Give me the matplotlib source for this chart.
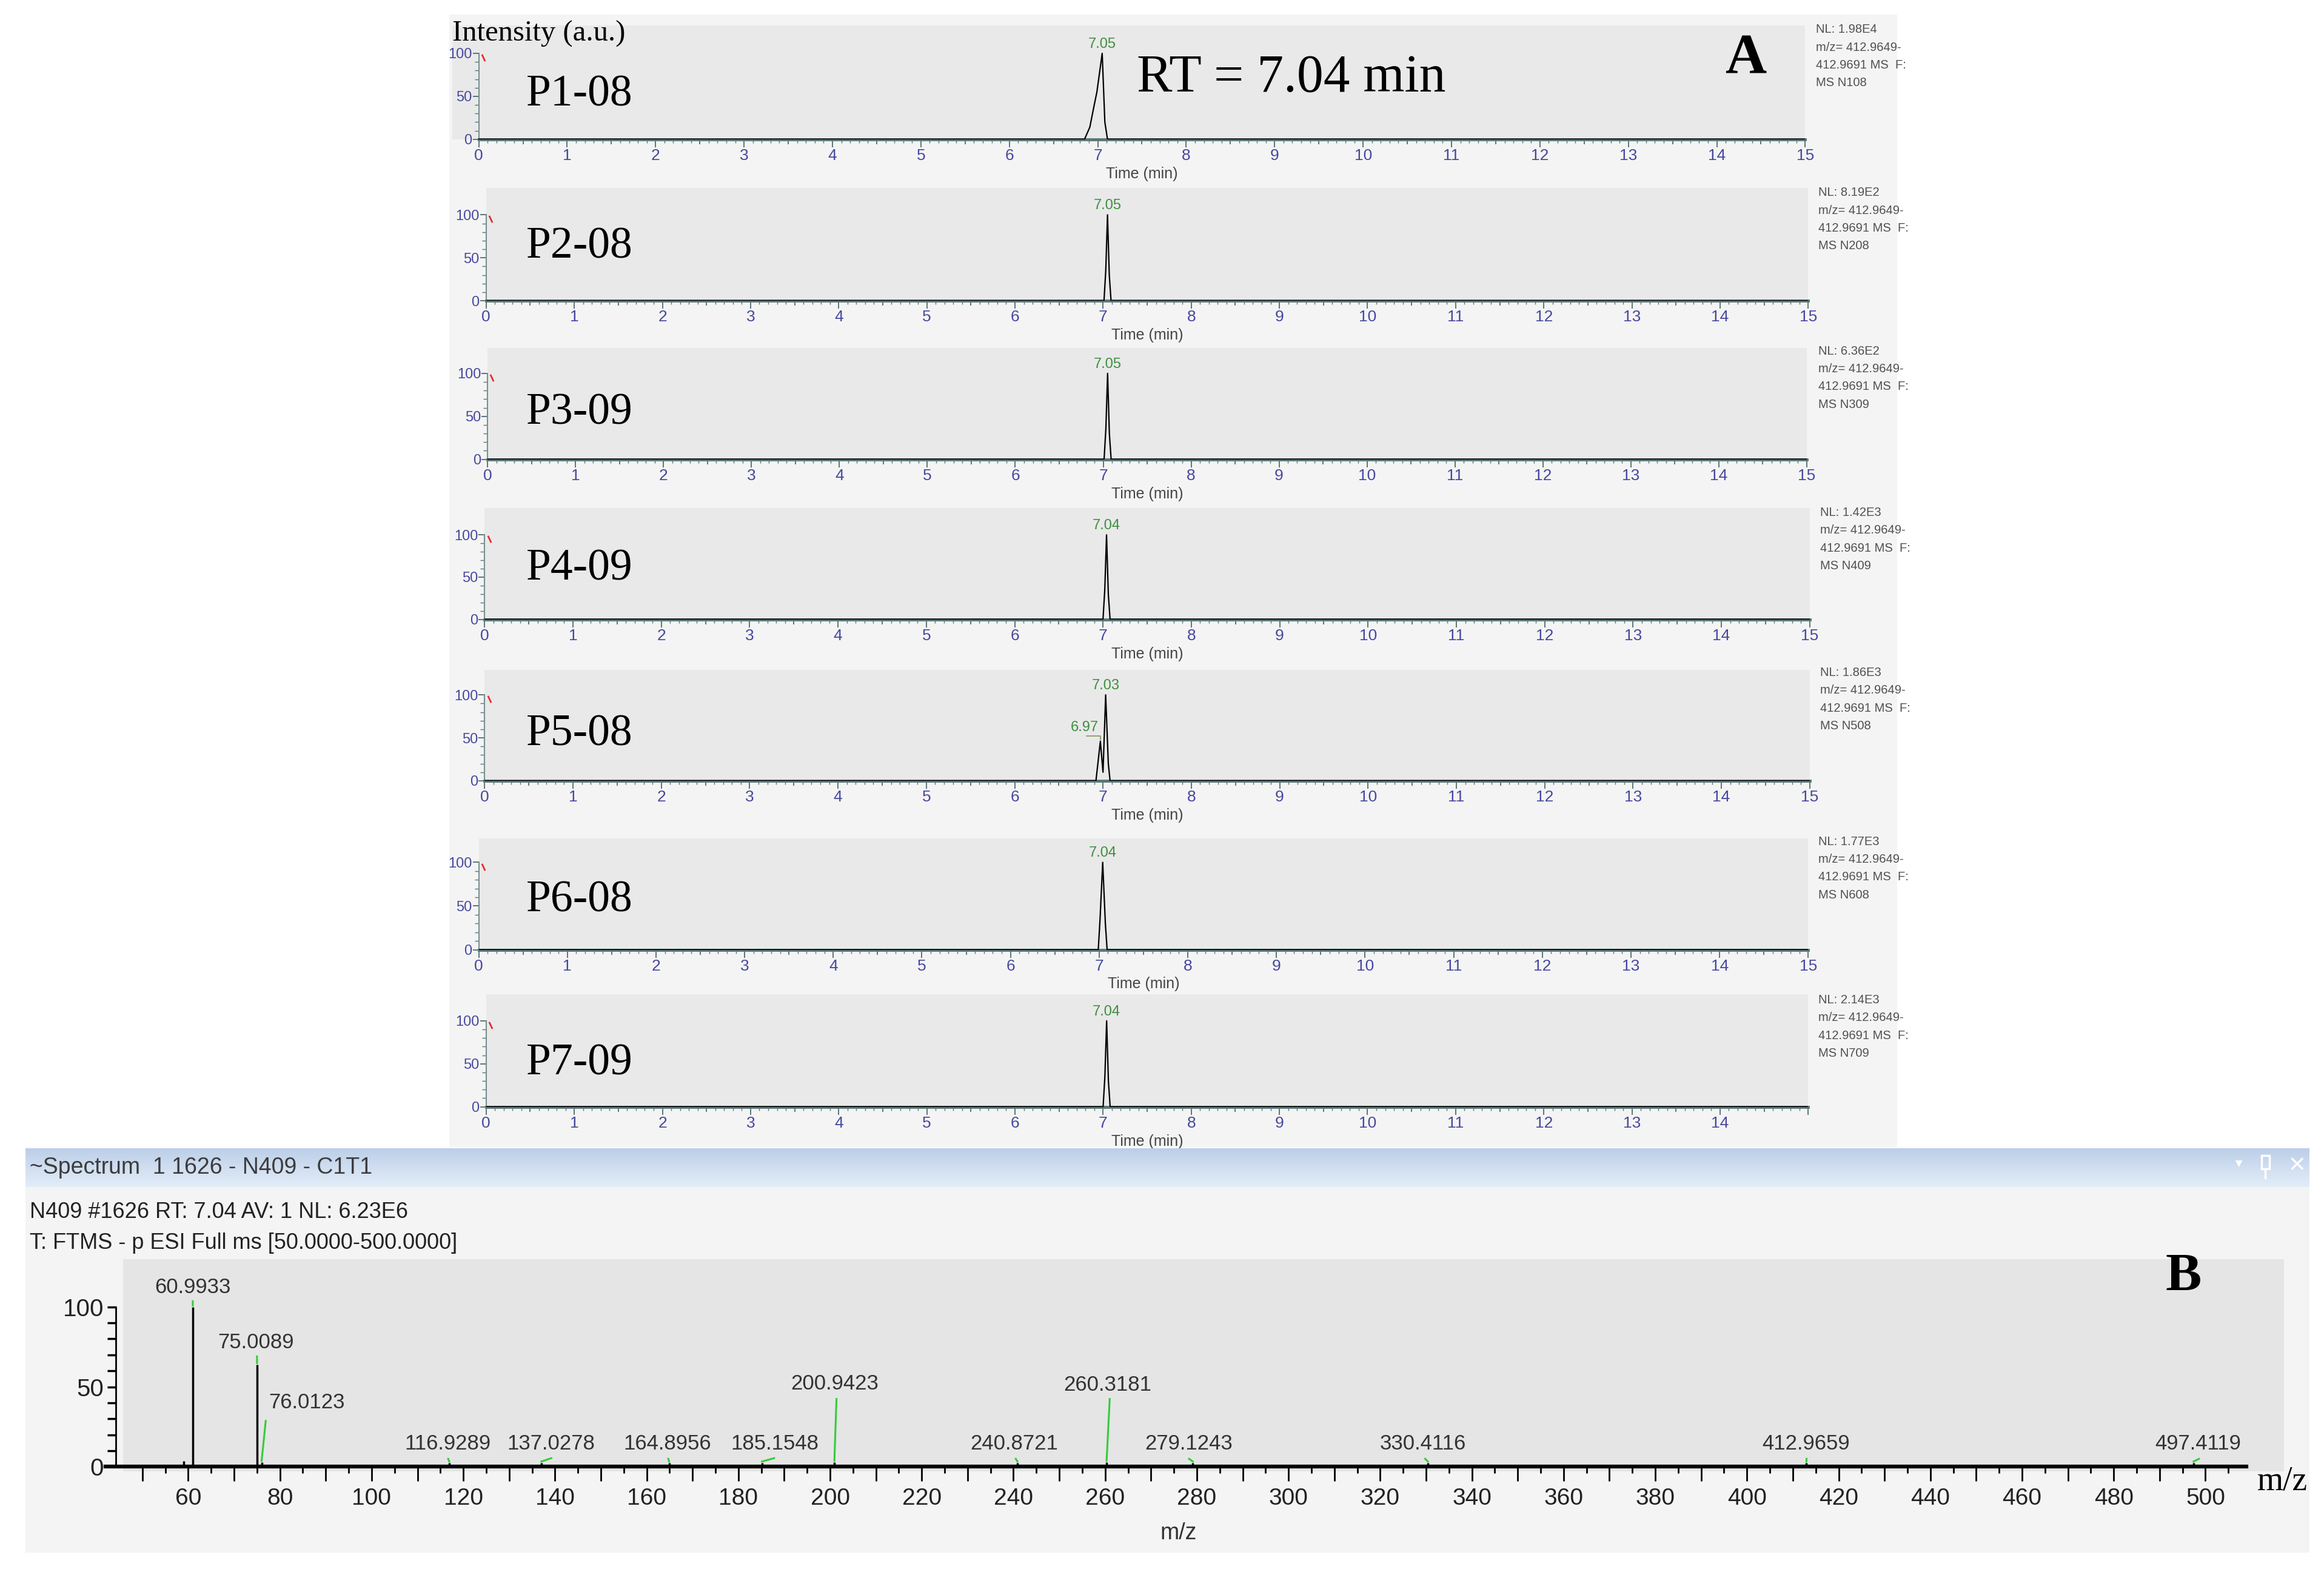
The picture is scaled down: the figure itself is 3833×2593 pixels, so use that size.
import matplotlib
matplotlib.use("Agg")
import matplotlib.pyplot as plt
import numpy as np
from matplotlib.patches import Rectangle
from matplotlib.lines import Line2D
from matplotlib.colors import LinearSegmentedColormap
from matplotlib.ticker import FixedLocator, FuncFormatter

# ---------------- data: extracted-ion chromatograms (m/z 412.9649-412.9691) ----------------
samples = ["P1-08", "P2-08", "P3-09", "P4-09", "P5-08", "P6-08", "P7-09"]
nl_values = ["1.98E4", "8.19E2", "6.36E2", "1.42E3", "1.86E3", "1.77E3", "2.14E3"]
scan_ids = ["N108", "N208", "N309", "N409", "N508", "N608", "N709"]

trace_time = [
    [0, 6.85, 6.91, 6.96, 6.99, 7.05, 7.08, 7.11, 15],
    [0, 7.01, 7.03, 7.05, 7.07, 7.09, 15],
    [0, 7.01, 7.03, 7.05, 7.07, 7.09, 15],
    [0, 7.00, 7.02, 7.04, 7.06, 7.08, 15],
    [0, 6.92, 6.97, 7.00, 7.03, 7.06, 7.08, 15],
    [0, 6.99, 7.01, 7.04, 7.07, 7.09, 15],
    [0, 7.00, 7.02, 7.04, 7.06, 7.08, 15],
]
trace_int = [
    [0, 0, 14, 40, 55, 100, 20, 0, 0],
    [0, 0, 35, 100, 30, 0, 0],
    [0, 0, 35, 100, 30, 0, 0],
    [0, 0, 35, 100, 30, 0, 0],
    [0, 0, 46, 10, 100, 20, 0, 0],
    [0, 0, 35, 100, 30, 0, 0],
    [0, 0, 35, 100, 30, 0, 0],
]
peak_rt = [[7.05], [7.05], [7.05], [7.04], [7.03], [7.04], [7.04]]
p5_minor_rt = 6.97
p5_minor_int = 46

# ---------------- data: mass spectrum N409 #1626 ----------------
peak_mz = [59.0, 60.9933, 75.0089, 76.0123, 116.9289, 137.0278, 164.8956, 185.1548,
           200.9423, 240.8721, 260.3181, 279.1243, 330.4116, 412.9659, 497.4119]
peak_int = [3.5, 100, 64, 3, 2.5, 2.5, 2.5, 2.5, 3, 2.5, 3, 2.5, 2.5, 2.5, 2.5]
labeled = [1, 2, 3, 4, 5, 6, 7, 8, 9, 10, 11, 12, 13, 14]
# label anchor (centre m/z, bottom intensity) and leader-line end
label_x = [61.0, 74.8, 85.9, 116.6, 139.2, 164.5, 188.0, 201.0, 240.2, 260.5, 278.2, 329.3, 412.8, 498.4]
label_y = [106, 71.5, 34, 8, 8, 8, 8, 45.5, 8, 45, 8, 8, 8, 8]
leader_x = [60.99, 75.0, 76.9, 116.7, 139.2, 164.7, 187.8, 201.4, 240.5, 261.0, 278.3, 329.8, 413.0, 498.6]
leader_y = [103.5, 69, 28.7, 5, 5.4, 5, 5.4, 42.4, 5, 42.4, 5, 5, 5, 5]

# ---------------- layout (reference pixels, 1568 x 1061 grid) ----------------
W, H = 1568, 1061


def fx(x):
    return x / W


def fy(y):
    return 1 - y / H


# x(0 min), x(15 min), y(100%), y(0%), gray top, gray left
panel_px = [
    (323, 1218, 36, 94, 17, 305),
    (328, 1220, 145, 203, 127, 328),
    (329, 1219, 252, 310, 235, 329),
    (327, 1221, 361, 418, 343, 327),
    (327, 1221, 469, 527, 452, 327),
    (323, 1220, 582, 641, 566, 323),
    (328, 1220, 689, 747, 671, 328),
]
nl_px = [(1225, 20), (1227, 130), (1227, 237), (1228, 346), (1228, 454), (1227, 568), (1227, 675)]
sample_y = [64, 167, 279, 384, 496, 608, 718]

SANS = ["Liberation Sans", "DejaVu Sans"]
NARROW = ["Liberation Sans Narrow", "Liberation Sans", "DejaVu Sans"]
SERIF = ["Liberation Serif", "DejaVu Serif"]
plt.rcParams["font.family"] = SANS

BLUE = "#4848a0"
TEAL = "#5a7676"
GREEN_TXT = "#3f8f3f"
GREEN = "#35cc3a"

fig = plt.figure(figsize=(38.33, 25.93), dpi=100, facecolor="white")


def rect(x0, y0, x1, y1, color, z=-5):
    fig.add_artist(Rectangle((fx(x0), fy(y1)), (x1 - x0) / W, (y1 - y0) / H,
                             transform=fig.transFigure, facecolor=color,
                             edgecolor="none", zorder=z))


# backgrounds
rect(303, 10, 1280, 774, "#f4f4f4")
rect(17, 800, 1558, 1048, "#f4f4f4")
rect(83, 850, 1541, 993, "#e5e5e5", z=-4)

# ---------------- chromatogram panels ----------------
for i in range(7):
    x0, x15, y100, y0, ytop, gl = panel_px[i]
    ppm = (x15 - x0) / 15
    ppu = (y0 - y100) / 100
    ax = fig.add_axes([fx(gl), fy(y0), (x15 - gl) / W, (y0 - ytop) / H])
    ax.set_facecolor("#e9e9e9")
    ax.set_xlim(-(x0 - gl) / ppm, 15)
    ax.set_ylim(0, (y0 - ytop) / ppu)

    ax.plot(trace_time[i], trace_int[i], color="black", lw=1.6, zorder=3)

    for spn in ("top", "right"):
        ax.spines[spn].set_visible(False)
    ax.spines["left"].set_position(("data", 0))
    ax.spines["left"].set_bounds(0, 100)
    ax.spines["left"].set_color("#7a9090")
    ax.spines["left"].set_linewidth(1.5)
    ax.spines["bottom"].set_bounds(0, 15)
    ax.spines["bottom"].set_color(TEAL)
    ax.spines["bottom"].set_linewidth(3.5)

    last = 14 if i == 6 else 15
    ax.xaxis.set_major_locator(FixedLocator(np.arange(0, 15.01, 0.5)))
    ax.xaxis.set_minor_locator(FixedLocator(np.arange(0, 15.01, 0.1)))
    ax.xaxis.set_major_formatter(FuncFormatter(
        lambda v, p, last=last: f"{v:.0f}" if abs(v - round(v)) < 1e-6 and v <= last + 0.01 else ""))
    ax.yaxis.set_major_locator(FixedLocator([0, 50, 100]))
    ax.yaxis.set_minor_locator(FixedLocator(np.arange(0, 101, 10)))
    ax.tick_params(axis="x", which="major", direction="out", length=9, width=1.4,
                   color=TEAL, labelcolor=BLUE, labelsize=19, pad=2)
    ax.tick_params(axis="x", which="minor", direction="out", length=4, width=1.0, color=TEAL)
    ax.tick_params(axis="y", which="major", direction="out", length=7, width=1.4,
                   color=TEAL, labelcolor=BLUE, labelsize=17, pad=1)
    ax.tick_params(axis="y", which="minor", direction="out", length=5, width=1.0, color=TEAL)
    for tk, v in zip(ax.xaxis.get_major_ticks(), ax.xaxis.get_majorticklocs()):
        if abs(v - round(v)) > 1e-6:
            tk.tick1line.set_markersize(6)

    # small red marker at top of the intensity axis
    ax.plot([0.05], [95], marker=(2, 0, 25), ms=9, mew=2, color="#e03030",
            clip_on=False, zorder=4)

    for rt in peak_rt[i]:
        ax.text(rt, 103, f"{rt:.2f}", ha="center", va="bottom", color=GREEN_TXT, fontsize=17)
    if i == 4:
        ax.text(p5_minor_rt - 0.02, p5_minor_int + 8, f"{p5_minor_rt:.2f}", ha="right",
                va="bottom", color=GREEN_TXT, fontsize=17)
        ax.plot([p5_minor_rt - 0.16, p5_minor_rt, p5_minor_rt],
                [p5_minor_int + 6, p5_minor_int + 6, p5_minor_int + 2],
                color="#8a9a6a", lw=1.3, zorder=4)

    ax.annotate("Time (min)", xy=(7.5, 0), xycoords=("data", "axes fraction"),
                xytext=(0, -41), textcoords="offset points", ha="center", va="center",
                fontsize=18, color="#454545")

    fig.text(fx(355), fy(sample_y[i]), samples[i], family=SERIF, fontsize=53,
             va="center", ha="left")

    nx, ny = nl_px[i]
    lines = [f"NL: {nl_values[i]}", "m/z= 412.9649-", "412.9691 MS  F:", f"MS {scan_ids[i]}"]
    for k, ln in enumerate(lines):
        fig.text(fx(nx), fy(ny + 12 * k), ln, fontsize=14.5, color="#505050",
                 ha="left", va="center")

fig.text(fx(305), fy(23), "Intensity (a.u.)", family=SERIF, fontsize=35, va="center")
fig.text(fx(767), fy(53), "RT = 7.04 min", family=SERIF, fontsize=63, va="center")
fig.text(fx(1178), fy(40), "A", family=SERIF, fontsize=68, weight="bold",
         ha="center", va="center")

# ---------------- spectrum window header ----------------
bar = fig.add_axes([fx(17), fy(801), (1558 - 17) / W, 26 / H])
grad = np.linspace(0, 1, 64).reshape(-1, 1)
bar.imshow(grad, aspect="auto", extent=[0, 1, 0, 1],
           cmap=LinearSegmentedColormap.from_list("bar", ["#bccfe8", "#e3edf9"]))
bar.axis("off")
fig.text(fx(20), fy(788), "~Spectrum  1 1626 - N409 - C1T1", fontsize=27,
         color="#3c3c3c", va="center")
fig.text(fx(1510), fy(786), "\u25BC", fontsize=14, color="white", ha="center", va="center")
fig.add_artist(Rectangle((fx(1526), fy(789)), 5 / W, 9 / H, transform=fig.transFigure,
                         facecolor="none", edgecolor="white", lw=2.5, zorder=6))
fig.add_artist(Line2D([fx(1528.5), fx(1528.5)], [fy(789), fy(795)],
                      transform=fig.transFigure, color="white", lw=2.5, zorder=6))
fig.text(fx(1550), fy(787), "\u00D7", fontsize=34, color="white", ha="center", va="center")

fig.text(fx(20), fy(818), "N409 #1626 RT: 7.04 AV: 1 NL: 6.23E6", fontsize=26,
         color="#222222", va="center")
fig.text(fx(20), fy(839), "T: FTMS - p ESI Full ms [50.0000-500.0000]", fontsize=26,
         color="#222222", va="center")

# ---------------- spectrum axes ----------------
x60, x500, s_y0, s_y100 = 127, 1488, 990, 882
ppx = (x500 - x60) / 440
ppy = (s_y0 - s_y100) / 100
sx_left, sx_right, sy_top, sy_bot = 60, 1541, 850, 993
sa = fig.add_axes([fx(sx_left), fy(sy_bot), (sx_right - sx_left) / W, (sy_bot - sy_top) / H])
sa.set_facecolor("none")
sa.set_xlim(60 - (x60 - sx_left) / ppx, 500 + (sx_right - x500) / ppx)
sa.set_ylim(-(sy_bot - s_y0) / ppy, (s_y0 - sy_top) / ppy)

sa.vlines(peak_mz, 0, peak_int, color="black", lw=2.5, zorder=3)
for n, j in enumerate(labeled):
    sa.plot([peak_mz[j], leader_x[n]], [peak_int[j] + 0.8, leader_y[n]],
            color=GREEN, lw=2.2, zorder=4)
    sa.text(label_x[n], label_y[n], f"{peak_mz[j]:.4f}", ha="center", va="bottom",
            fontsize=25, color="#333333")

for spn in ("top", "right"):
    sa.spines[spn].set_visible(False)
sa.spines["bottom"].set_position(("data", 0))
sa.spines["bottom"].set_bounds(42, 509)
sa.spines["bottom"].set_linewidth(4.5)
sa.spines["left"].set_position(("data", 60 - (x60 - 78) / ppx))
sa.spines["left"].set_bounds(0, 100)
sa.spines["left"].set_linewidth(2)

sa.xaxis.set_major_locator(FixedLocator(np.arange(50, 501, 10)))
sa.xaxis.set_minor_locator(FixedLocator(np.arange(55, 506, 10)))
sa.xaxis.set_major_formatter(FuncFormatter(lambda v, p: f"{v:.0f}" if round(v) % 20 == 0 else ""))
sa.yaxis.set_major_locator(FixedLocator([0, 50, 100]))
sa.yaxis.set_minor_locator(FixedLocator(np.arange(0, 101, 10)))
sa.tick_params(axis="x", which="major", direction="out", length=17, width=2,
               labelsize=28, pad=8)
sa.tick_params(axis="x", which="minor", direction="out", length=8, width=2)
sa.tick_params(axis="y", which="both", direction="out", length=10, width=2.5,
               labelsize=29, pad=4)
for lab in sa.get_xticklabels() + sa.get_yticklabels():
    lab.set_family(NARROW)
    lab.set_color("#222222")

fig.text(fx(795), fy(1035), "m/z", fontsize=27, color="#333333", ha="center", va="center")
fig.text(fx(1540), fy(1000), "m/z", family=SERIF, fontsize=40, ha="center", va="center")
fig.text(fx(1473), fy(862), "B", family=SERIF, fontsize=64, weight="bold",
         ha="center", va="center")

fig.savefig("out.png", dpi=100, facecolor="white")
